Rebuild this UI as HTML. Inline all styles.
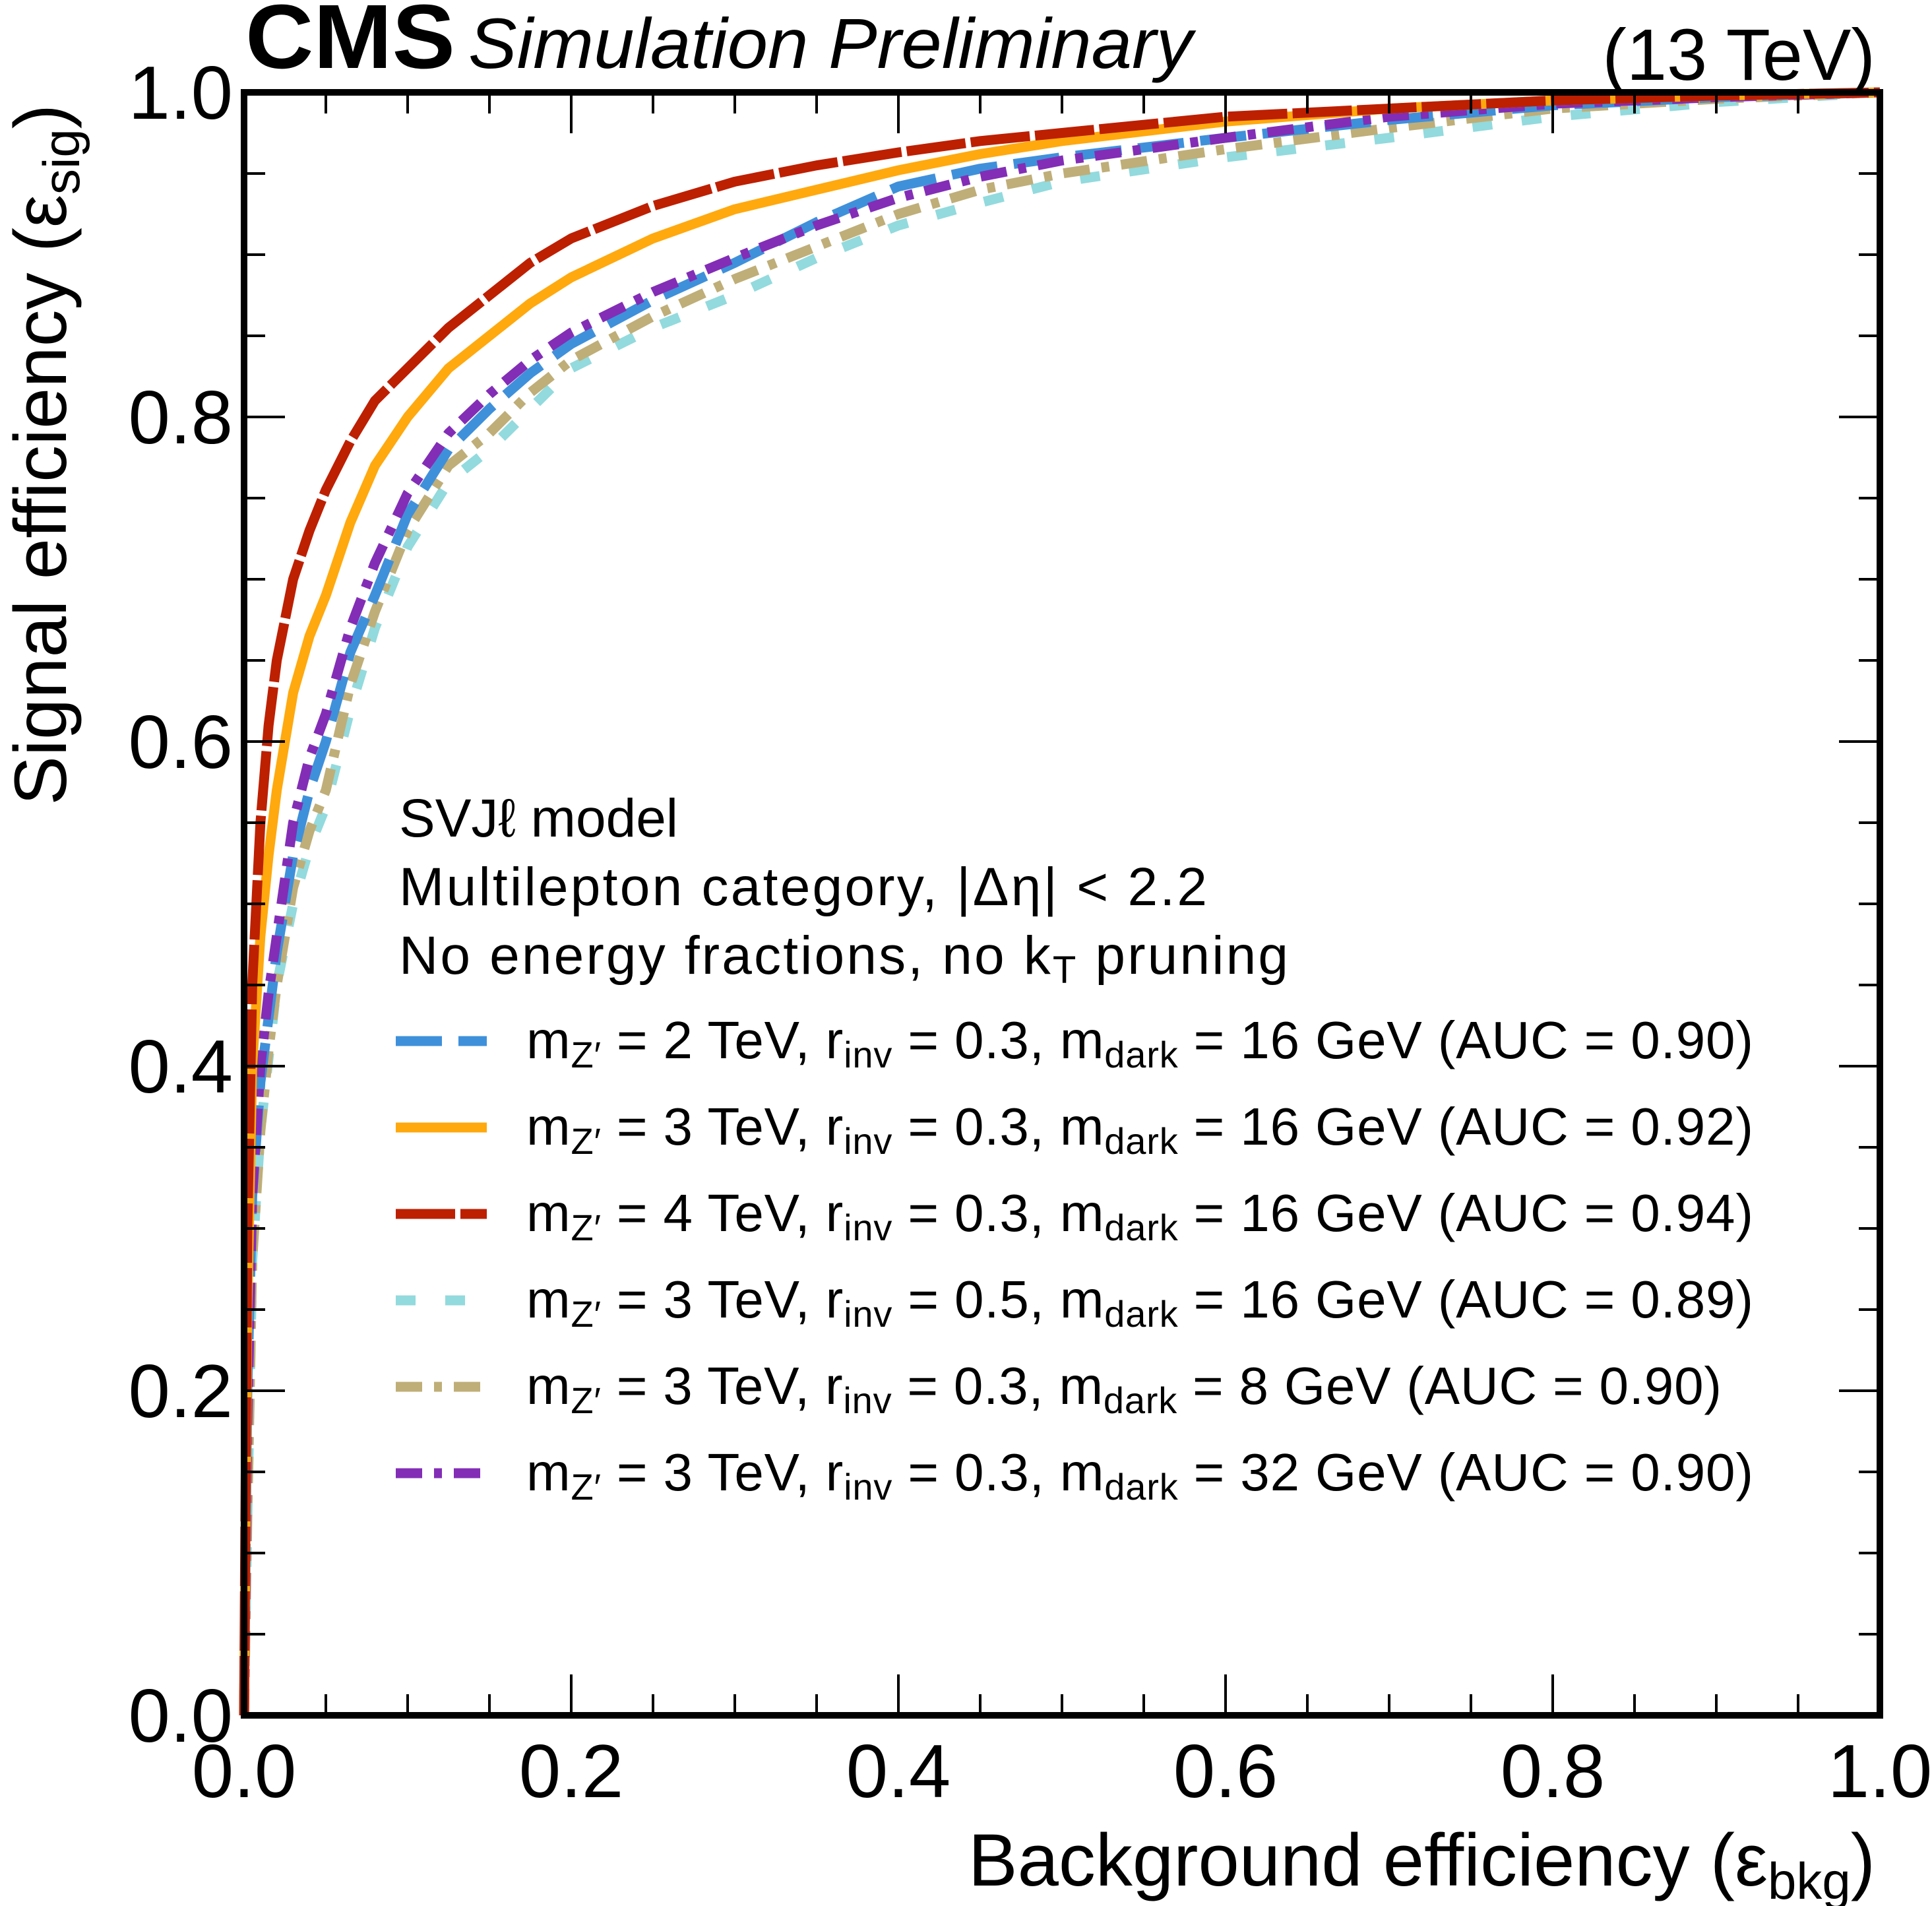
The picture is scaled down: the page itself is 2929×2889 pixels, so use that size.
<!DOCTYPE html>
<html><head><meta charset="utf-8">
<style>
html,body{margin:0;padding:0;background:#fff;}
svg{display:block;font-family:"Liberation Sans",Helvetica,Arial,sans-serif;}
</style></head>
<body>
<svg id="chart" width="2929" height="2889" viewBox="0 0 2929 2889" xmlns="http://www.w3.org/2000/svg">
  <rect x="0" y="0" width="2929" height="2889" fill="#fff"/>
  <g id="curves"></g>
  <g id="ticks"></g>
  <rect x="370" y="140" width="2480" height="2460" fill="none" stroke="#000" stroke-width="10"/>
  <g id="ticklabels" font-size="114"></g>
  <text x="372" y="103" font-size="138" font-weight="bold" textLength="318" lengthAdjust="spacingAndGlyphs">CMS</text>
  <text x="710" y="103" font-size="108" font-style="italic" textLength="1098" lengthAdjust="spacingAndGlyphs">Simulation Preliminary</text>
  <text x="2843" y="121" font-size="110" text-anchor="end">(13 TeV)</text>
  <text x="2843" y="2858" font-size="112" text-anchor="end">Background efficiency (ε<tspan font-size="78" dy="20">bkg</tspan><tspan dy="-20">)</tspan></text>
  <text transform="translate(100,158) rotate(-90)" font-size="112" text-anchor="end">Signal efficiency (ε<tspan font-size="78" dy="20">sig</tspan><tspan dy="-20">)</tspan></text>
  <g font-size="82">
    <text x="605" y="1268">SVJℓ model</text>
    <text x="605" y="1372" textLength="1225" lengthAdjust="spacing">Multilepton category,  |Δη| &lt; 2.2</text>
    <text x="605" y="1476" textLength="1348" lengthAdjust="spacing">No energy fractions, no k<tspan font-size="58" dy="14">T</tspan><tspan dy="-14"> pruning</tspan></text>
  </g>
  <g id="legend" font-size="80"></g>
</svg>
<script>
const NS="http://www.w3.org/2000/svg";
const X0=370,X1=2850,Y0=2600,Y1=140;
function sx(v){return X0+(X1-X0)*v;}
function sy(v){return Y0-(Y0-Y1)*v;}

const xTickLabels=["0.0","0.2","0.4","0.6","0.8","1.0"];
const yTickLabels=["0.0","0.2","0.4","0.6","0.8","1.0"];
const bkgEff=[0,0.002,0.005,0.01,0.015,0.02,0.03,0.04,0.05,0.065,0.08,0.1,0.125,0.15,0.175,0.2,0.25,0.3,0.35,0.4,0.45,0.5,0.6,0.7,0.8,0.9,1];
const sigRed   =[0,0.3,0.45,0.55,0.61,0.65,0.70,0.73,0.755,0.785,0.81,0.83,0.855,0.875,0.895,0.91,0.93,0.945,0.955,0.963,0.97,0.975,0.985,0.99,0.995,0.998,1];
const sigOrange=[0,0.25,0.4,0.48,0.53,0.57,0.63,0.665,0.69,0.735,0.77,0.80,0.83,0.85,0.87,0.886,0.91,0.928,0.94,0.952,0.962,0.97,0.982,0.99,0.995,0.998,1];
const sigPurple=[0,0.18,0.32,0.40,0.445,0.48,0.55,0.59,0.617,0.67,0.71,0.753,0.79,0.814,0.835,0.852,0.877,0.898,0.918,0.935,0.948,0.958,0.972,0.985,0.993,0.997,1];
const sigBlue  =[0,0.2,0.32,0.39,0.43,0.47,0.53,0.57,0.60,0.655,0.69,0.74,0.78,0.805,0.827,0.845,0.872,0.895,0.92,0.942,0.953,0.96,0.972,0.983,0.992,0.997,1];
const sigTan   =[0,0.12,0.28,0.36,0.41,0.45,0.51,0.545,0.57,0.635,0.68,0.73,0.77,0.79,0.815,0.835,0.862,0.885,0.905,0.925,0.94,0.95,0.965,0.978,0.99,0.996,1];
const sigCyan  =[0,0.12,0.28,0.36,0.405,0.45,0.50,0.535,0.56,0.62,0.67,0.72,0.76,0.78,0.805,0.83,0.855,0.875,0.898,0.918,0.932,0.945,0.96,0.972,0.985,0.994,1];

const series=[
 {name:"cyan",vals:sigCyan,color:"#92dadd",dash:"30,45",label:["3","0.5","16","0.89"]},
 {name:"tan",vals:sigTan,color:"#bfae78",dash:"40,18,12,18",label:["3","0.3","8","0.90"]},
 {name:"blue",vals:sigBlue,color:"#3f90da",dash:"70,25",label:["2","0.3","16","0.90"]},
 {name:"purple",vals:sigPurple,color:"#832db6",dash:"40,18,12,18",label:["3","0.3","32","0.90"]},
 {name:"orange",vals:sigOrange,color:"#ffa90e",dash:"",label:["3","0.3","16","0.92"]},
 {name:"red",vals:sigRed,color:"#bd1f01",dash:"90,8",label:["4","0.3","16","0.94"]}
];
const legendOrder=["blue","orange","red","cyan","tan","purple"];

const curves=document.getElementById('curves');
series.forEach(s=>{
  const p=document.createElementNS(NS,'polyline');
  
  
  p.setAttribute('points',bkgEff.map((x,i)=>sx(x)+','+sy(s.vals[i])).join(' '));
  p.setAttribute('fill','none');p.setAttribute('stroke',s.color);
  p.setAttribute('stroke-width','15');p.setAttribute('stroke-linejoin','round');
  if(s.dash)p.setAttribute('stroke-dasharray',s.dash);
  curves.appendChild(p);
});

const ticks=document.getElementById('ticks');
function line(x1,y1,x2,y2){
  const l=document.createElementNS(NS,'line');
  
  
  l.setAttribute('x1',x1);l.setAttribute('y1',y1);l.setAttribute('x2',x2);l.setAttribute('y2',y2);
  l.setAttribute('stroke','#000');l.setAttribute('stroke-width','4');
  ticks.appendChild(l);
}
for(let i=0;i<=20;i++){
  const v=i/20,len=(i%4===0)?62:32;
  const x=sx(v),y=sy(v);
  line(x,Y0,x,Y0-len);line(x,Y1,x,Y1+len);
  line(X0,y,X0+len,y);line(X1,y,X1-len,y);
}
const tl=document.getElementById('ticklabels');
xTickLabels.forEach((t,i)=>{
  const e=document.createElementNS(NS,'text');
  
  
  e.setAttribute('x',sx(i/5));e.setAttribute('y',2724);e.setAttribute('text-anchor','middle');
  e.textContent=t;tl.appendChild(e);
});
yTickLabels.forEach((t,i)=>{
  const e=document.createElementNS(NS,'text');
  
  
  e.setAttribute('x',353);e.setAttribute('y',sy(i/5)+40);e.setAttribute('text-anchor','end');
  e.textContent=t;tl.appendChild(e);
});

const leg=document.getElementById('legend');
legendOrder.forEach((n,i)=>{
  const s=series.find(q=>q.name===n);
  const y=1604+i*131;
  const l=document.createElementNS(NS,'line');
  
  
  l.setAttribute('x1',600);l.setAttribute('x2',738);l.setAttribute('y1',y-26);l.setAttribute('y2',y-26);
  l.setAttribute('stroke',s.color);l.setAttribute('stroke-width','15');
  if(s.dash)l.setAttribute('stroke-dasharray',s.dash);
  leg.appendChild(l);
  const t=document.createElementNS(NS,'text');
  
  
  t.setAttribute('x',798);t.setAttribute('y',y);
  const L=s.label;
  t.innerHTML='m<tspan font-size="56" dy="14">Z′</tspan><tspan dy="-14"> = '+L[0]+' TeV, r</tspan><tspan font-size="56" dy="14">inv</tspan><tspan dy="-14"> = '+L[1]+', m</tspan><tspan font-size="56" dy="14">dark</tspan><tspan dy="-14"> = '+L[2]+' GeV (AUC = '+L[3]+')</tspan>';
  leg.appendChild(t);
  const target=(L[2]==="8")?1812:1860;
  t.setAttribute('textLength',target);
  t.setAttribute('lengthAdjust','spacing');
});
</script>
</body></html>
